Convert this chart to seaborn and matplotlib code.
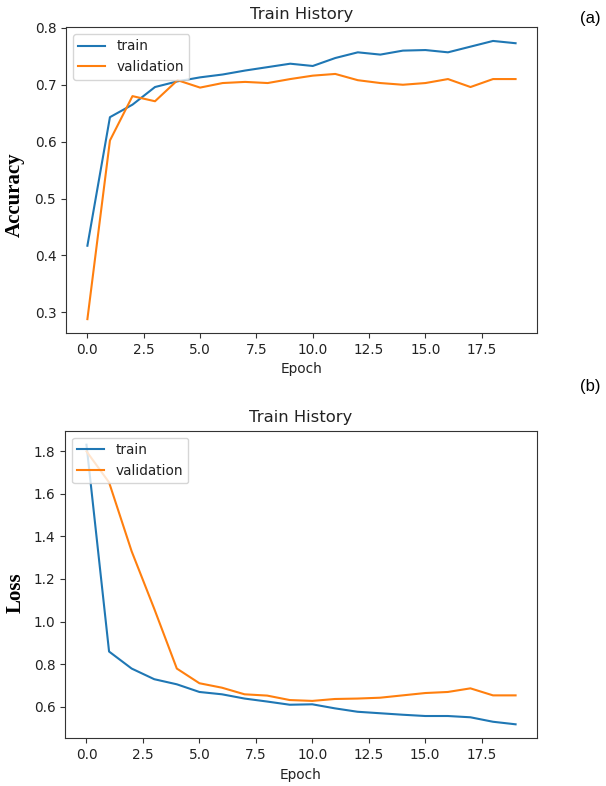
import matplotlib
matplotlib.use("Agg")
import matplotlib.pyplot as plt
import seaborn as sns
import pandas as pd

epochs = list(range(20))
acc_train = [0.417, 0.643, 0.665, 0.696, 0.706, 0.713, 0.718, 0.725, 0.731, 0.737,
             0.733, 0.747, 0.757, 0.753, 0.760, 0.761, 0.757, 0.767, 0.777, 0.773]
acc_val = [0.288, 0.602, 0.680, 0.671, 0.708, 0.695, 0.703, 0.705, 0.703, 0.710,
           0.716, 0.719, 0.708, 0.703, 0.700, 0.703, 0.710, 0.696, 0.710, 0.710]
loss_train = [1.831, 0.859, 0.779, 0.729, 0.705, 0.669, 0.658, 0.638, 0.624, 0.609,
              0.611, 0.592, 0.576, 0.569, 0.562, 0.556, 0.556, 0.550, 0.529, 0.517]
loss_val = [1.800, 1.654, 1.330, 1.060, 0.779, 0.710, 0.689, 0.658, 0.652, 0.631,
            0.627, 0.636, 0.638, 0.642, 0.653, 0.664, 0.669, 0.686, 0.653, 0.653]
series_names = ["train", "validation"]
title = "Train History"
xlabel = "Epoch"

plt.rcdefaults()
plt.rcParams["font.size"] = 9.8
plt.rcParams["text.color"] = "#222222"
plt.rcParams["axes.labelcolor"] = "#222222"
plt.rcParams["xtick.labelcolor"] = "#222222"
plt.rcParams["ytick.labelcolor"] = "#222222"
plt.rcParams["axes.edgecolor"] = "#333333"
plt.rcParams["xtick.color"] = "#333333"
plt.rcParams["ytick.color"] = "#333333"

fig = plt.figure(figsize=(6.06, 7.86), dpi=100)
ax1 = fig.add_axes([0.1089, 0.5763, 0.7772, 0.3893])
ax2 = fig.add_axes([0.1073, 0.0607, 0.7789, 0.3913])

palette = {"train": "#1f77b4", "validation": "#ff7f0e"}

def long_df(a, b):
    return pd.DataFrame({
        "epoch": epochs + epochs,
        "value": a + b,
        "series": [series_names[0]] * len(a) + [series_names[1]] * len(b),
    })

for ax, (a, b) in [(ax1, (acc_train, acc_val)), (ax2, (loss_train, loss_val))]:
    sns.lineplot(data=long_df(a, b), x="epoch", y="value", hue="series",
                 palette=palette, ax=ax, linewidth=1.5)
    ax.set_title(title)
    ax.set_xlabel(xlabel)
    ax.set_ylabel("")
    h, l = ax.get_legend_handles_labels()
    ax.legend(h, l, loc="upper left")

fig.text(0.025, 1 - 195 / 786, "Accuracy", rotation=90, ha="center", va="center",
         family="Liberation Serif", fontweight="bold", fontsize=15, color="black")
fig.text(0.025, 1 - 593 / 786, "Loss", rotation=90, ha="center", va="center",
         family="Liberation Serif", fontweight="bold", fontsize=15, color="black")
fig.text(590 / 606, 1 - 18 / 786, "(a)", ha="center", va="center",
         family="Liberation Sans", fontsize=12, color="black")
fig.text(590 / 606, 1 - 386 / 786, "(b)", ha="center", va="center",
         family="Liberation Sans", fontsize=12, color="black")

fig.savefig("out.png", dpi=100)
